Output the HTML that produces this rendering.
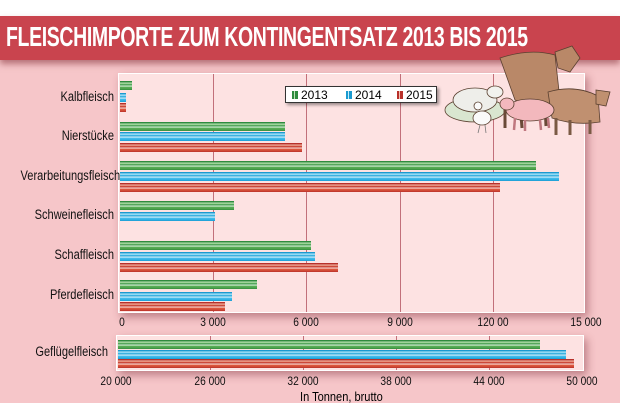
<!DOCTYPE html>
<html><head><meta charset="utf-8"><style>
*{margin:0;padding:0;box-sizing:border-box}
body{width:620px;height:420px;background:#fff;position:relative;overflow:hidden;font-family:"Liberation Sans",sans-serif}
.abs{position:absolute}
#bg{left:0;top:16px;width:620px;height:387px;background:#f6c6c9}
#band{left:0;top:16px;width:620px;height:44px;background:#c9444e;box-shadow:0 4px 6px rgba(120,30,40,.5)}
#title{left:6px;top:21px;color:#fff;font-weight:bold;font-size:28px;letter-spacing:-0.5px;white-space:nowrap;transform:scaleX(0.695);transform-origin:left top}
.panel{background:#fde2e2;box-shadow:3px 4px 8px rgba(120,40,50,.45);border:1px solid #fff}
.g{position:absolute;top:0;bottom:0;width:1px;background:#c2707a}
.bar{position:absolute;height:9px}
.gr{background:linear-gradient(#2e8b3e 0,#2e8b3e 1px,#bfe3b8 2px,#7cc47a 3px,#2e8b3e 4px,#f0fff0 5px,#5aae58 6px,#4aa04a 8px,#2e8b3e 9px)}
.bl{background:linear-gradient(#1a9ad0 0,#1a9ad0 1px,#c4ecfa 2px,#5cc8ef 3px,#1a9ad0 4px,#f0fbff 5px,#46bfee 6px,#2aaee2 8px,#1a9ad0 9px)}
.rd{background:linear-gradient(#b8302a 0,#b8302a 1px,#f1c0b0 2px,#e06048 3px,#b8302a 4px,#fff0ea 5px,#e05a40 6px,#cc4432 8px,#b8302a 9px)}
.lab{position:absolute;font-size:13.5px;color:#111;text-align:right;width:114px;left:0;transform:scaleX(.82);transform-origin:right center}
.tk{position:absolute;font-size:12px;color:#111;width:60px;text-align:center;transform:scaleX(.85)}
</style></head><body>
<div class="abs" id="bg"></div>
<div class="abs" id="band"></div>
<div class="abs" id="title">FLEISCHIMPORTE ZUM KONTINGENTSATZ 2013 BIS 2015</div>

<div class="abs panel" style="left:118px;top:73px;width:467px;height:240px">
 <div class="g" style="left:94px"></div><div class="g" style="left:187px"></div><div class="g" style="left:281px"></div><div class="g" style="left:374px"></div>
</div>
<div class="bar gr" style="left:120px;top:81px;width:12px"></div>
<div class="bar bl" style="left:120px;top:93px;width:6px"></div>
<div class="bar rd" style="left:120px;top:103px;width:6px"></div>
<div class="bar gr" style="left:120px;top:122px;width:165px"></div>
<div class="bar bl" style="left:120px;top:132px;width:165px"></div>
<div class="bar rd" style="left:120px;top:143px;width:182px"></div>
<div class="bar gr" style="left:120px;top:161px;width:416px"></div>
<div class="bar bl" style="left:120px;top:172px;width:439px"></div>
<div class="bar rd" style="left:120px;top:183px;width:380px"></div>
<div class="bar gr" style="left:120px;top:201px;width:114px"></div>
<div class="bar bl" style="left:120px;top:212px;width:95px"></div>
<div class="bar gr" style="left:120px;top:241px;width:191px"></div>
<div class="bar bl" style="left:120px;top:252px;width:195px"></div>
<div class="bar rd" style="left:120px;top:263px;width:218px"></div>
<div class="bar gr" style="left:120px;top:280px;width:137px"></div>
<div class="bar bl" style="left:120px;top:292px;width:112px"></div>
<div class="bar rd" style="left:120px;top:302px;width:105px"></div>

<div class="lab" style="top:89px">Kalbfleisch</div>
<div class="lab" style="top:128px">Nierstücke</div>
<div class="lab" style="top:168px">Verarbeitungsfleisch</div>
<div class="lab" style="top:207px">Schweinefleisch</div>
<div class="lab" style="top:247px">Schaffleisch</div>
<div class="lab" style="top:287px">Pferdefleisch</div>
<div class="lab" style="top:344px;left:-6px">Geflügelfleisch</div>

<div class="tk" style="left:92px;top:315px">0</div>
<div class="tk" style="left:183px;top:315px">3 000</div>
<div class="tk" style="left:276px;top:315px">6 000</div>
<div class="tk" style="left:370px;top:315px">9 000</div>
<div class="tk" style="left:463px;top:315px">120 00</div>
<div class="tk" style="left:556px;top:315px">15 000</div>

<div class="abs" style="left:285px;top:86px;width:152px;height:17px;background:#fff;border:1px solid #333;box-shadow:2px 2px 3px rgba(0,0,0,.4);font-size:12px">
 <span class="abs" style="left:6px;top:4px;width:6px;height:8px;background:linear-gradient(90deg,#2e8b3e 0 2px,#bfe3b8 2px 3px,#2e8b3e 3px)"></span><span class="abs" style="left:15px;top:1px">2013</span>
 <span class="abs" style="left:60px;top:4px;width:6px;height:8px;background:linear-gradient(90deg,#1a9ad0 0 2px,#c4ecfa 2px 3px,#1a9ad0 3px)"></span><span class="abs" style="left:69px;top:1px">2014</span>
 <span class="abs" style="left:111px;top:4px;width:6px;height:8px;background:linear-gradient(90deg,#b8302a 0 2px,#f1c0b0 2px 3px,#b8302a 3px)"></span><span class="abs" style="left:120px;top:1px">2015</span>
</div>

<div class="abs panel" style="left:116px;top:335px;width:468px;height:36px">
 <div class="g" style="left:93px"></div><div class="g" style="left:186px"></div><div class="g" style="left:279px"></div><div class="g" style="left:372px"></div>
</div>
<div class="bar gr" style="left:118px;top:340px;width:422px"></div>
<div class="bar bl" style="left:118px;top:350px;width:448px"></div>
<div class="bar rd" style="left:118px;top:359px;width:456px"></div>
<div class="tk" style="left:86px;top:374px">20 000</div>
<div class="tk" style="left:180px;top:374px">26 000</div>
<div class="tk" style="left:273px;top:374px">32 000</div>
<div class="tk" style="left:366px;top:374px">38 000</div>
<div class="tk" style="left:459px;top:374px">44 000</div>
<div class="tk" style="left:552px;top:374px">50 000</div>
<div class="abs" style="left:300px;top:389px;font-size:13px;transform:scaleX(.85);transform-origin:left top">In Tonnen, brutto</div>

<svg class="abs" style="left:440px;top:40px" width="180" height="100" viewBox="440 40 180 100">
 <g stroke="#5a4030" stroke-width="0.8">
 <ellipse cx="475" cy="110" rx="30" ry="12" fill="#d9e6d0"/>
 <ellipse cx="475" cy="100" rx="22" ry="12" fill="#eeeeea"/>
 <ellipse cx="495" cy="92" rx="8" ry="6" fill="#f2f2ee"/>
 <path d="M500 58 Q530 48 555 55 L560 100 Q540 112 515 100 Z" fill="#b98868"/>
 <path d="M555 52 L572 46 L580 58 L570 72 L558 68 Z" fill="#b98868"/>
 <path d="M505 100 L505 128 M520 102 L522 128 M545 104 L546 126" stroke="#6a4a38" stroke-width="3"/>
 <path d="M548 92 Q575 84 598 96 L600 122 Q575 126 552 118 Z" fill="#c09070"/>
 <path d="M596 90 L610 92 L606 106 L596 104 Z" fill="#c09070"/>
 <path d="M556 118 L556 135 M570 120 L570 135 M590 120 L590 134" stroke="#7a5a44" stroke-width="3"/>
 <ellipse cx="530" cy="110" rx="24" ry="11" fill="#f3b8bd"/>
 <ellipse cx="507" cy="104" rx="7" ry="6" fill="#f3b8bd"/>
 <path d="M515 118 L514 130 M525 120 L525 131 M540 120 L541 130 M548 118 L549 128" stroke="#c07880" stroke-width="2.5"/>
 <ellipse cx="482" cy="118" rx="9" ry="7" fill="#fafafa"/>
 <circle cx="478" cy="106" r="4" fill="#fafafa"/>
 <path d="M480 125 L478 133 M485 125 L486 133" stroke="#777"/>
 </g>
</svg>
</body></html>
